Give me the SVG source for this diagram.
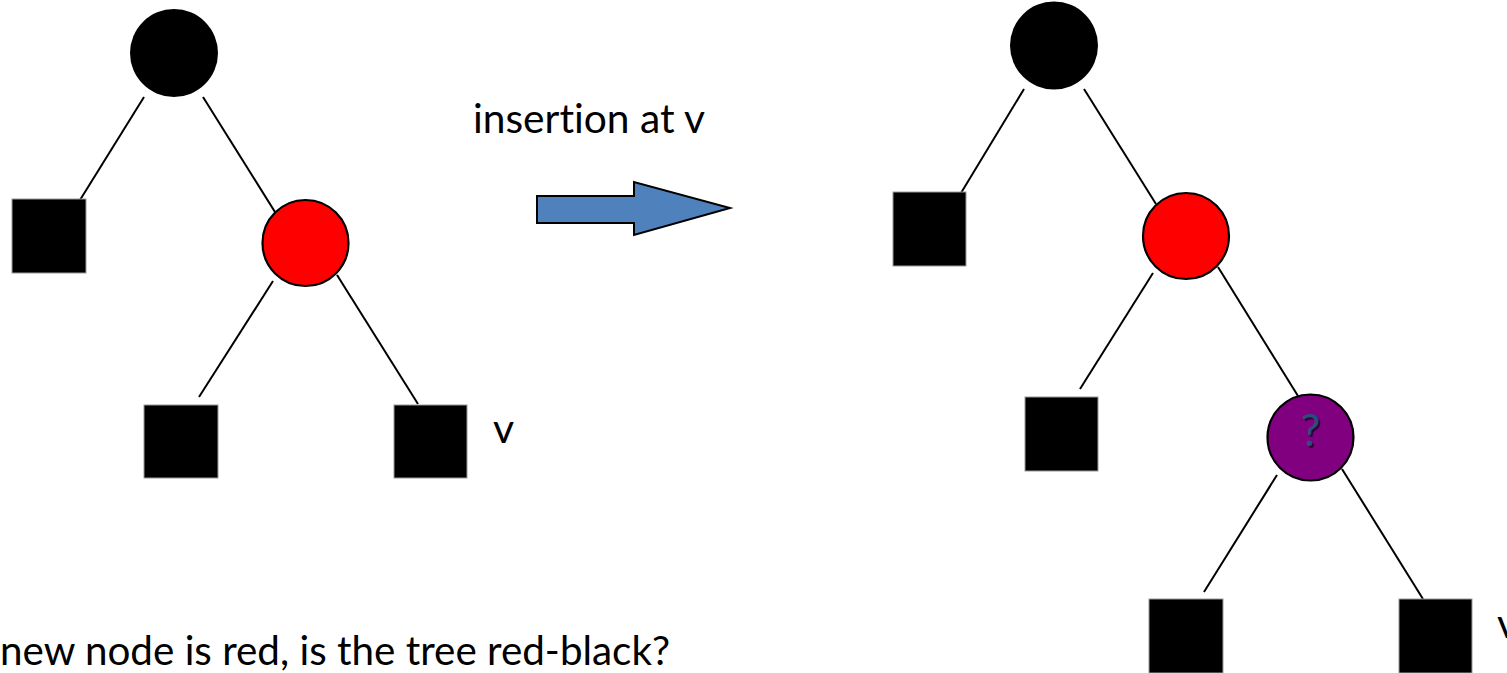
<svg xmlns="http://www.w3.org/2000/svg" width="1507" height="673" viewBox="0 0 1507 673">
  <style>
    .edge { stroke: #000; stroke-width: 2; fill: none; }
    .leaf { fill: #000; stroke: #9a9a9a; stroke-width: 1; }
    .black { fill: #000; }
    .red { fill: #ff0000; stroke: #000; stroke-width: 2.2; }
    .unknown { fill: #800080; stroke: #000; stroke-width: 2.2; }
    text { font-variant-ligatures: none; font-feature-settings: "liga" 0, "dlig" 0; }
    .label { font-family: Lato, "Open Sans", "Liberation Sans", sans-serif; font-size: 41px; fill: #000; }
    .mark { font-family: Lato, "Open Sans", "Liberation Sans", sans-serif; font-size: 44px; text-anchor: middle; }
  </style>
  <rect width="1507" height="673" fill="#fff"/>

  <!-- tree edges -->
  <g id="connectors">
    <line class="edge" x1="144" y1="97" x2="80" y2="200"/>
    <line class="edge" x1="203" y1="97" x2="275" y2="212"/>
    <line class="edge" x1="273" y1="281" x2="199" y2="397"/>
    <line class="edge" x1="337" y1="275" x2="418" y2="404"/>

    <line class="edge" x1="1024" y1="89" x2="961" y2="193"/>
    <line class="edge" x1="1084" y1="89" x2="1156" y2="204"/>
    <line class="edge" x1="1153" y1="273" x2="1080" y2="389"/>
    <line class="edge" x1="1218" y1="267" x2="1298" y2="396"/>
    <line class="edge" x1="1277" y1="475" x2="1204" y2="592"/>
    <line class="edge" x1="1342" y1="469" x2="1423" y2="599"/>
  </g>

  <!-- tree before insertion -->
  <g id="a-root"><circle class="black" cx="174" cy="53" r="44"/></g>
  <g id="a-leaf-left"><rect class="leaf" x="12" y="199" width="74" height="74"/></g>
  <g id="a-red"><circle class="red" cx="305.5" cy="243" r="43"/></g>
  <g id="a-leaf-mid"><rect class="leaf" x="144" y="405" width="74" height="73"/></g>
  <g id="a-leaf-v"><rect class="leaf" x="394" y="405" width="73" height="73"/></g>
  <text class="label" x="493" y="443">v</text>

  <!-- transition arrow -->
  <g id="arrow">
    <text class="label" x="473" y="133" textLength="232" lengthAdjust="spacingAndGlyphs">insertion at v</text>
    <polygon points="537,196 634,196 634,182 730,208 634,235 634,223 537,223" fill="#4f81bd" stroke="#000" stroke-width="2" stroke-linejoin="miter"/>
  </g>

  <!-- tree after insertion -->
  <g id="b-root"><circle class="black" cx="1054" cy="45.5" r="44"/></g>
  <g id="b-leaf-left"><rect class="leaf" x="893" y="192" width="73" height="74"/></g>
  <g id="b-red"><circle class="red" cx="1186" cy="236" r="43"/></g>
  <g id="b-leaf-mid"><rect class="leaf" x="1025" y="397" width="73" height="74"/></g>
  <g id="b-new">
    <circle class="unknown" cx="1310.5" cy="437.5" r="43"/>
    <text class="mark" x="1312" y="447.5" fill="#000" fill-opacity="0.6">?</text>
    <text class="mark" x="1310.5" y="446" fill="#24507f">?</text>
  </g>
  <g id="b-leaf-new-left"><rect class="leaf" x="1149" y="599" width="74" height="74"/></g>
  <g id="b-leaf-new-right"><rect class="leaf" x="1399" y="599" width="73" height="74"/></g>
  <text class="label" x="1497" y="638">v</text>

  <!-- question -->
  <text class="label" x="0" y="665" textLength="670" lengthAdjust="spacingAndGlyphs">new node is red, is the tree red-black?</text>
</svg>
